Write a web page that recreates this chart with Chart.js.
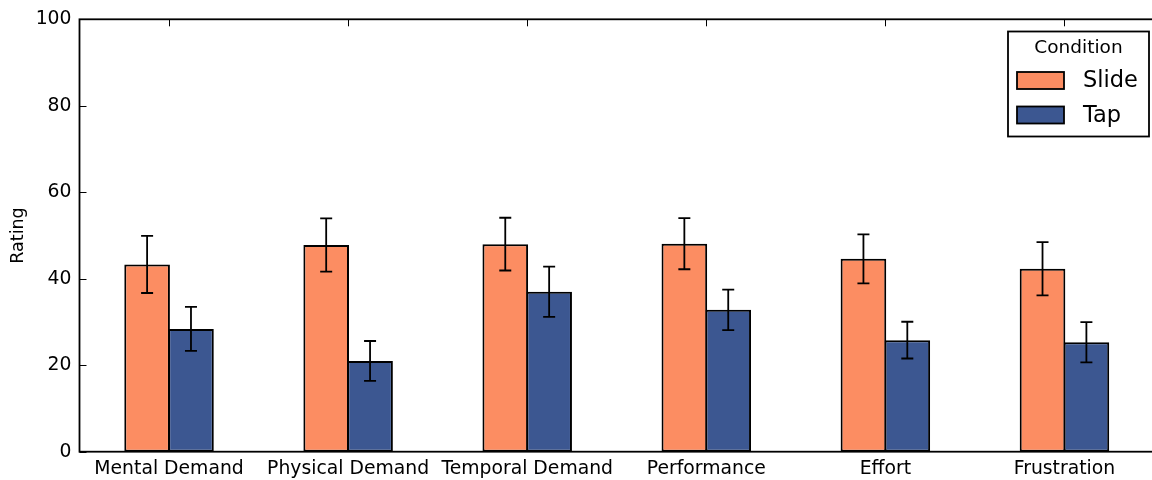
<!DOCTYPE html>
<html>
<head>
<meta charset="utf-8">
<script src="https://cdn.jsdelivr.net/npm/chart.js@4"></script>
<style>
    html, body { margin: 0; padding: 0; background: #fff; overflow: hidden; }
    #wrap { width: 1160px; height: 480px; }
</style>
</head>
<body>
<div id="wrap"><canvas id="ratingChart"></canvas></div>
<script>
// Data
const categories = ['Mental Demand', 'Physical Demand', 'Temporal Demand', 'Performance', 'Effort', 'Frustration'];
const slideValues = [43.3, 47.8, 48.0, 48.1, 44.6, 42.3];
const slideErrors = [6.6, 6.15, 6.1, 5.9, 5.65, 6.15];
const tapValues = [28.4, 21.0, 37.0, 32.8, 25.8, 25.3];
const tapErrors = [5.1, 4.6, 5.8, 4.7, 4.25, 4.65];
const yTicks = [0, 20, 40, 60, 80, 100];

const FONT = "'DejaVu Sans', sans-serif";
const errors = [slideErrors, tapErrors];

// error bars drawn from the y scale
const errorBars = {
    id: 'errorBars',
    afterDatasetsDraw(chart) {
        const ctx = chart.ctx;
        const y = chart.scales.y;
        ctx.save();
        ctx.strokeStyle = '#000';
        ctx.lineWidth = 1.8;
        chart.data.datasets.forEach((ds, di) => {
            const meta = chart.getDatasetMeta(di);
            meta.data.forEach((bar, i) => {
                const v = ds.data[i].y;
                const e = errors[di][i];
                const top = y.getPixelForValue(v + e);
                const bot = y.getPixelForValue(v - e);
                ctx.beginPath();
                ctx.moveTo(bar.x, top); ctx.lineTo(bar.x, bot);
                ctx.moveTo(bar.x - 6, top); ctx.lineTo(bar.x + 6, top);
                ctx.moveTo(bar.x - 6, bot); ctx.lineTo(bar.x + 6, bot);
                ctx.stroke();
            });
        });
        ctx.restore();
    }
};

// matplotlib-like frame with inward ticks, plus the legend box
const frame = {
    id: 'frame',
    afterDraw(chart) {
        const ctx = chart.ctx;
        const a = chart.chartArea;
        const x = chart.scales.x, y = chart.scales.y;
        ctx.save();
        ctx.strokeStyle = '#000';
        ctx.lineWidth = 1.8;
        ctx.strokeRect(a.left, a.top, a.right - a.left, a.bottom - a.top);

        ctx.lineWidth = 1;
        ctx.beginPath();
        yTicks.forEach(t => {
            const py = Math.round(y.getPixelForValue(t)) + 0.5;
            ctx.moveTo(a.left, py); ctx.lineTo(a.left + 7, py);
        });
        categories.forEach((c, i) => {
            const px = Math.round(x.getPixelForValue(i)) + 0.5;
            ctx.moveTo(px, a.top); ctx.lineTo(px, a.top + 7);
            ctx.moveTo(px, a.bottom); ctx.lineTo(px, a.bottom - 7);
        });
        ctx.stroke();

        // legend
        const lx = 1008, ly = 31.5, lw = 141, lh = 105;
        ctx.fillStyle = '#fff';
        ctx.fillRect(lx, ly, lw, lh);
        ctx.lineWidth = 1.8;
        ctx.strokeRect(lx, ly, lw, lh);
        ctx.fillStyle = '#000';
        ctx.textBaseline = 'middle';
        ctx.textAlign = 'center';
        ctx.font = '18.5px ' + FONT;
        ctx.fillText('Condition', lx + lw / 2, 48);
        ctx.textAlign = 'left';
        ctx.font = '22.5px ' + FONT;
        chart.data.datasets.forEach((ds, i) => {
            const cy = 80.5 + i * 34.5;
            ctx.fillStyle = ds.backgroundColor;
            ctx.fillRect(1017, cy - 8.5, 47, 17);
            ctx.strokeStyle = '#000';
            ctx.lineWidth = 1.8;
            ctx.strokeRect(1017, cy - 8.5, 47, 17);
            ctx.fillStyle = '#000';
            ctx.fillText(ds.label, 1083, cy + 1);
        });
        ctx.restore();
    }
};

const ctx = document.getElementById('ratingChart').getContext('2d');

new Chart(ctx, {
    type: 'bar',
    data: {
        datasets: [{
            label: 'Slide',
            data: slideValues.map((v, i) => ({ x: i, y: v })),
            backgroundColor: '#fc8d62',
            borderColor: '#000',
            borderWidth: 2,
            borderSkipped: false,
            categoryPercentage: 0.49,
            barPercentage: 1.04
        }, {
            label: 'Tap',
            data: tapValues.map((v, i) => ({ x: i, y: v })),
            backgroundColor: '#3c5791',
            borderColor: '#000',
            borderWidth: 2,
            borderSkipped: false,
            categoryPercentage: 0.49,
            barPercentage: 1.04
        }]
    },
    options: {
        responsive: true,
        maintainAspectRatio: false,
        animation: false,
        layout: { padding: { top: 19.3, right: 6, left: 0, bottom: 0 } },
        plugins: {
            legend: { display: false },
            tooltip: { enabled: false }
        },
        scales: {
            x: {
                type: 'linear',
                min: -0.5,
                max: 5.5,
                offset: false,
                grid: { display: false },
                border: { display: false },
                afterBuildTicks: (scale) => {
                    scale.ticks = categories.map((c, i) => ({ value: i }));
                },
                afterFit: (scale) => { scale.height = 28.3; },
                ticks: {
                    autoSkip: false,
                    maxRotation: 0,
                    padding: -2,
                    color: '#000',
                    font: { family: FONT, size: 18.8 },
                    callback: (v) => categories[v]
                }
            },
            y: {
                min: 0,
                max: 100,
                grid: { display: false },
                border: { display: false },
                afterBuildTicks: (scale) => {
                    scale.ticks = yTicks.map(v => ({ value: v }));
                },
                afterFit: (scale) => { scale.width = 79.5; },
                ticks: {
                    padding: 0,
                    color: '#000',
                    font: { family: FONT, size: 18.8 }
                },
                title: {
                    display: true,
                    text: 'Rating',
                    color: '#000',
                    font: { family: FONT, size: 17.5 },
                    padding: { top: 8, bottom: 0 }
                }
            }
        }
    },
    plugins: [errorBars, frame]
});
</script>
</body>
</html>
